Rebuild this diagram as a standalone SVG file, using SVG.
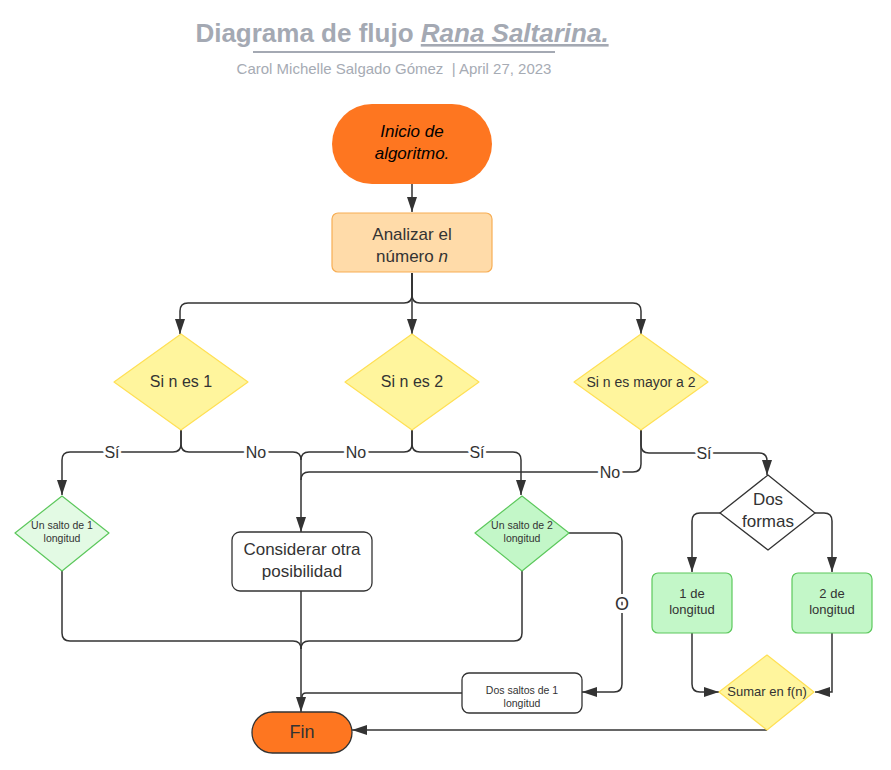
<svg xmlns="http://www.w3.org/2000/svg" width="891" height="770" viewBox="0 0 891 770">
<style>
  text { font-family: "Liberation Sans", Arial, sans-serif; fill: #333333; }
  .title { font-size: 26px; font-weight: bold; fill: #a4a9b3; }
  .sub { font-size: 15px; fill: #a6abb4; white-space: pre; }
  .c { text-anchor: middle; }
  .conn { fill: none; stroke: #333333; stroke-width: 1.5; }
  .lbl { font-size: 16px; text-anchor: middle; dominant-baseline: central; stroke: #ffffff; stroke-width: 6; paint-order: stroke; stroke-linejoin: round; }
  .orange { fill: #fe7620; }
  .yellow { fill: #fff59d; stroke: #ffe055; stroke-width: 1.2; stroke-linejoin: round; }
  .green { fill: #c3f7c8; stroke: #5cc85c; stroke-width: 1.2; stroke-linejoin: round; }
  .lgreen { fill: #e3fae4; stroke: #5cc85c; stroke-width: 1.2; stroke-linejoin: round; }
  .white { fill: #ffffff; stroke: #333333; stroke-width: 1.3; stroke-linejoin: round; }
</style>
<defs>
  <marker id="arr" viewBox="0 0 15 10" refX="15" refY="5" markerWidth="15" markerHeight="10" markerUnits="userSpaceOnUse" orient="auto">
    <path d="M0,0 L15,5 L0,10 z" fill="#333333"/>
  </marker>
</defs>
<rect width="891" height="770" fill="#ffffff"/>

<g id="title">
  <text class="title c" x="402" y="42">Diagrama de flujo <tspan font-style="italic" text-decoration="underline">Rana Saltarina.</tspan></text>
  <line x1="253" y1="52" x2="555" y2="52" stroke="#a4a9b3" stroke-width="2"/>
  <text class="sub c" x="394" y="74" xml:space="preserve">Carol Michelle Salgado Gómez  | April 27, 2023</text>
</g>

<g id="connectors">
  <path class="conn" d="M412,184 V212" marker-end="url(#arr)"/>
  <path class="conn" d="M412,273 V295 Q412,303 404,303 H188 Q180,303 180,311 V334" marker-end="url(#arr)"/>
  <path class="conn" d="M412,273 V334" marker-end="url(#arr)"/>
  <path class="conn" d="M412,273 V295 Q412,303 420,303 H633 Q641,303 641,311 V334" marker-end="url(#arr)"/>
  <path class="conn" d="M181,430 V444 Q181,452 173,452 H70 Q62,452 62,460 V495" marker-end="url(#arr)"/>
  <path class="conn" d="M181,430 V444 Q181,452 189,452 H293 Q301,452 301,460 V532" marker-end="url(#arr)"/>
  <path class="conn" d="M412,430 V444 Q412,452 404,452 H309 Q301,452 301,460"/>
  <path class="conn" d="M412,430 V444 Q412,452 420,452 H513 Q521,452 521,460 V495" marker-end="url(#arr)"/>
  <path class="conn" d="M641,430 V464 Q641,472 633,472 H309 Q301,472 301,480"/>
  <path class="conn" d="M641,430 V445 Q641,453 649,453 H759 Q767,453 767,461 V475" marker-end="url(#arr)"/>
  <path class="conn" d="M720,513 H700 Q692,513 692,521 V572" marker-end="url(#arr)"/>
  <path class="conn" d="M815,513 H824 Q832,513 832,521 V572" marker-end="url(#arr)"/>
  <path class="conn" d="M692,633 V684 Q692,692 700,692 H719" marker-end="url(#arr)"/>
  <path class="conn" d="M832,633 V692 H815" marker-end="url(#arr)"/>
  <path class="conn" d="M767,730 H352" marker-end="url(#arr)"/>
  <path class="conn" d="M62,571 V633 Q62,641 70,641 H293 Q301,641 301,649"/>
  <path class="conn" d="M522,571 V633 Q522,641 514,641 H309 Q301,641 301,649"/>
  <path class="conn" d="M301,591 V712" marker-end="url(#arr)"/>
  <path class="conn" d="M569,533 H614 Q622,533 622,541 V684 Q622,692 614,692 H582" marker-end="url(#arr)"/>
  <path class="conn" d="M462,693 H306 Q302,693 302,697" stroke="#666666"/>
  <text class="lbl" x="112" y="452">Sí</text>
  <text class="lbl" x="256" y="452">No</text>
  <text class="lbl" x="356" y="452">No</text>
  <text class="lbl" x="477" y="452">Sí</text>
  <text class="lbl" x="610" y="472">No</text>
  <text class="lbl" x="704" y="453">Sí</text>
  <text class="lbl" x="622" y="604" style="font-size:18px">O</text>
</g>

<g id="inicio">
  <rect class="orange" x="332" y="104" width="160" height="80" rx="40"/>
  <text class="c" x="412" y="137" font-size="17" font-style="italic" style="fill:#000">Inicio de</text>
  <text class="c" x="412" y="159" font-size="17" font-style="italic" style="fill:#000">algoritmo.</text>
</g>

<g id="analizar">
  <rect x="332" y="213" width="160" height="59" rx="6" fill="#ffdba9" stroke="#f7ae55" stroke-width="1.2"/>
  <text class="c" x="412" y="240" font-size="17">Analizar el</text>
  <text class="c" x="412" y="262" font-size="17">número <tspan font-style="italic">n</tspan></text>
</g>

<g id="d1">
  <polygon class="yellow" points="181,334 248,382 181,430 114,382"/>
  <text class="c" x="181" y="387" font-size="16">Si n es 1</text>
</g>
<g id="d2">
  <polygon class="yellow" points="412,334 479,382 412,430 345,382"/>
  <text class="c" x="412" y="387" font-size="16">Si n es 2</text>
</g>
<g id="d3">
  <polygon class="yellow" points="641,334 708,382 641,430 574,382"/>
  <text class="c" x="641" y="387" font-size="14">Si n es mayor a 2</text>
</g>

<g id="salto1">
  <polygon class="lgreen" points="62,496 109,533 62,571 15,533"/>
  <text class="c" x="62" y="529" font-size="10.5">Un salto de 1</text>
  <text class="c" x="62" y="542" font-size="10.5">longitud</text>
</g>

<g id="considerar">
  <rect class="white" x="232" y="532" width="140" height="59" rx="8"/>
  <text class="c" x="302" y="555" font-size="17">Considerar otra</text>
  <text class="c" x="302" y="577" font-size="17">posibilidad</text>
</g>

<g id="salto2">
  <polygon class="green" points="522,496 569,533 522,571 475,533"/>
  <text class="c" x="522" y="529" font-size="10.5">Un salto de 2</text>
  <text class="c" x="522" y="542" font-size="10.5">longitud</text>
</g>

<g id="dosformas">
  <polygon class="white" points="768,475 815,513 768,550 720,513"/>
  <text class="c" x="768" y="505" font-size="17">Dos</text>
  <text class="c" x="768" y="527" font-size="17">formas</text>
</g>

<g id="uno">
  <rect class="green" x="652" y="573" width="80" height="60" rx="6"/>
  <text class="c" x="692" y="598" font-size="13">1 de</text>
  <text class="c" x="692" y="614" font-size="13">longitud</text>
</g>
<g id="dos">
  <rect class="green" x="792" y="573" width="80" height="60" rx="6"/>
  <text class="c" x="832" y="598" font-size="13">2 de</text>
  <text class="c" x="832" y="614" font-size="13">longitud</text>
</g>

<g id="sumar">
  <polygon class="yellow" points="767,655 814,692 767,730 719,692"/>
  <text class="c" x="767" y="696" font-size="13">Sumar en f(n)</text>
</g>

<g id="dossaltos">
  <rect class="white" x="462" y="673" width="120" height="40" rx="7" stroke="#444444"/>
  <text class="c" x="522" y="694" font-size="10.5">Dos saltos de 1</text>
  <text class="c" x="522" y="707" font-size="10.5">longitud</text>
</g>

<g id="fin">
  <rect class="orange" x="252" y="712" width="100" height="41" rx="20.5" stroke="#333333" stroke-width="1.3"/>
  <text class="c" x="302" y="738" font-size="18">Fin</text>
</g>
</svg>
